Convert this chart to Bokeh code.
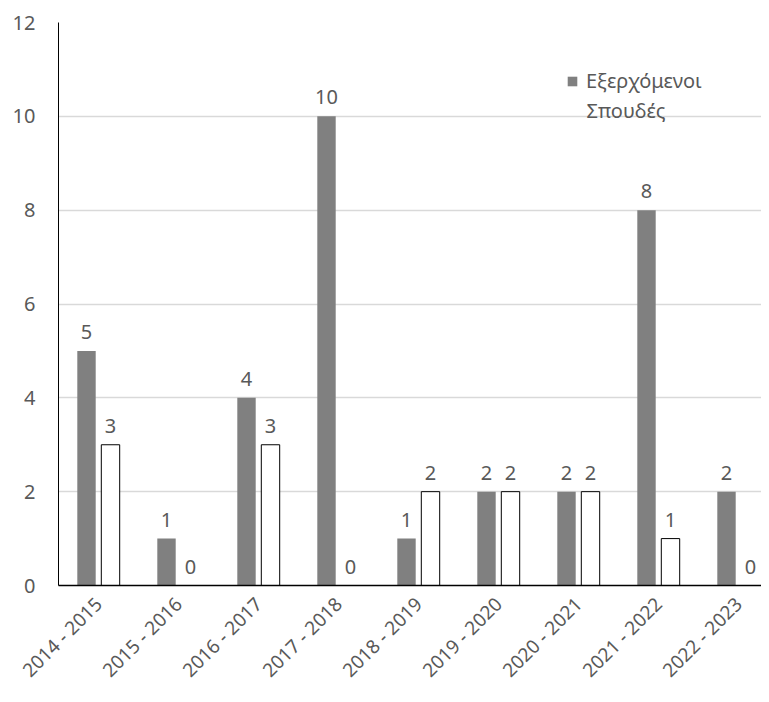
from bokeh.plotting import figure
from bokeh.models import (ColumnDataSource, Range1d, FixedTicker, LabelSet,
                          Legend, LegendItem, Label)
from bokeh.core.properties import value
from bokeh.embed import file_html
from bokeh.resources import INLINE
import math

years = ["2014 - 2015", "2015 - 2016", "2016 - 2017", "2017 - 2018", "2018 - 2019",
         "2019 - 2020", "2020 - 2021", "2021 - 2022", "2022 - 2023"]
outgoing = [5, 1, 4, 10, 1, 2, 2, 8, 2]
other = [3, 0, 3, 0, 2, 2, 2, 1, 0]
legend_line1 = "Εξερχόμενοι"
legend_line2 = "Σπουδές"

FONT = "Noto Sans"
TXT = "#595959"
FS = "20px"
idx = list(range(len(years)))
off = 0.15
bw = 0.23

src = ColumnDataSource(dict(
    xg=[i - off for i in idx], xw=[i + off for i in idx],
    g=outgoing, w=other,
    gl=[str(v) for v in outgoing], wl=[str(v) for v in other],
))

p = figure(width=761, height=694, output_backend="svg", toolbar_location=None,
           x_range=Range1d(-0.5, 8.2875), y_range=Range1d(0, 12),
           min_border_left=58, min_border_right=0, min_border_top=22,
           min_border_bottom=109)
p.outline_line_color = None
p.background_fill_color = "white"

rg = p.vbar(x="xg", top="g", bottom=0, width=bw, source=src,
            fill_color="#808080", line_color=None)
rw = p.vbar(x="xw", top="w", bottom=0, width=bw, source=src,
            fill_color="white", line_color="black", line_width=1)

for xcol, ycol, tcol in (("xg", "g", "gl"), ("xw", "w", "wl")):
    p.add_layout(LabelSet(x=xcol, y=ycol, text=tcol, source=src, y_offset=12,
                          text_align="center", text_baseline="bottom",
                          text_font=value(FONT), text_font_size=FS,
                          text_color=TXT))

p.xgrid.visible = False
p.ygrid.grid_line_color = "#d9d9d9"
p.ygrid.grid_line_width = 1.5

p.yaxis.ticker = FixedTicker(ticks=[0, 2, 4, 6, 8, 10, 12])
p.yaxis.major_tick_line_color = None
p.yaxis.minor_tick_line_color = None
p.yaxis.axis_line_color = "black"
p.yaxis.axis_line_width = 1
p.yaxis.major_label_standoff = 17
p.yaxis.major_label_text_font = FONT
p.yaxis.major_label_text_font_size = FS
p.yaxis.major_label_text_color = TXT

p.xaxis.ticker = FixedTicker(ticks=idx)
p.xaxis.major_label_overrides = {i: years[i] for i in idx}
p.xaxis.major_tick_line_color = None
p.xaxis.minor_tick_line_color = None
p.xaxis.axis_line_color = "black"
p.xaxis.axis_line_width = 1.5
p.xaxis.major_label_orientation = math.pi / 4
p.xaxis.major_label_standoff = 9
p.xaxis.major_label_text_font = FONT
p.xaxis.major_label_text_font_size = "19px"
p.xaxis.major_label_text_color = TXT

legend = Legend(items=[LegendItem(label=legend_line1, renderers=[rg])],
                location=(508, 491), orientation="vertical",
                background_fill_color="white", background_fill_alpha=1,
                border_line_color=None, glyph_width=12, glyph_height=12,
                label_standoff=8, label_text_font=FONT,
                label_text_font_size=FS, label_text_color=TXT,
                padding=40, margin=0, spacing=0)
p.add_layout(legend)
p.add_layout(Label(x=528, y=475, x_units="screen", y_units="screen",
                   text=legend_line2, text_baseline="middle", text_align="left",
                   text_font=FONT, text_font_size=FS, text_color=TXT,
                   level="overlay"))

open("out.html", "w").write(file_html(p, INLINE))
